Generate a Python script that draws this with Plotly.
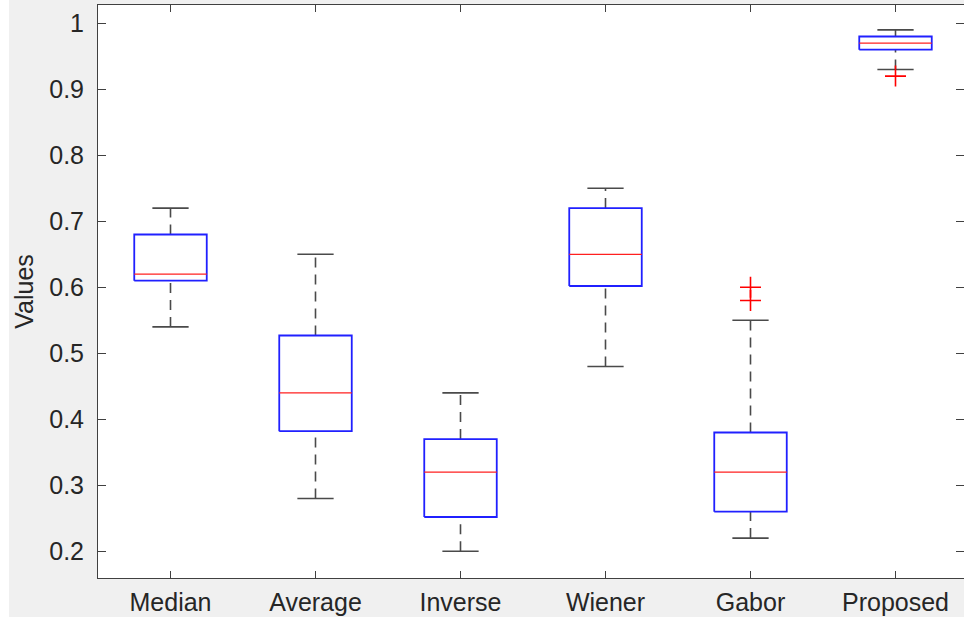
import plotly.graph_objects as go

categories = ["Median", "Average", "Inverse", "Wiener", "Gabor", "Proposed"]
lower_whisker = [0.54, 0.28, 0.20, 0.48, 0.22, 0.93]
q1 = [0.61, 0.382, 0.252, 0.602, 0.26, 0.96]
medians = [0.62, 0.44, 0.32, 0.65, 0.32, 0.97]
q3 = [0.68, 0.527, 0.37, 0.72, 0.38, 0.98]
upper_whisker = [0.72, 0.65, 0.44, 0.75, 0.55, 0.99]
outlier_group = ["Gabor", "Gabor", "Proposed"]
outlier_values = [0.60, 0.58, 0.92]
y_tickvals = [0.2, 0.3, 0.4, 0.5, 0.6, 0.7, 0.8, 0.9, 1.0]
y_ticktext = ["0.2", "0.3", "0.4", "0.5", "0.6", "0.7", "0.8", "0.9", "1"]

W, H = 964, 619
ML, MR, MT, MB = 98, 0, 5, 41
BOX_HALF = 0.25
CAP_HALF = 0.125
TEXT = "#262626"
AXIS = "#404040"
WHISK = "#4a4a4a"
FONT = "Liberation Sans, Arial, Helvetica, sans-serif"
FS = 25

pos = list(range(1, len(categories) + 1))

fig = go.Figure()

# whiskers (dashed)
wx, wy = [], []
for p, lo, a, b, hi in zip(pos, lower_whisker, q1, q3, upper_whisker):
    wx += [p, p, None, p, p, None]
    wy += [b, hi, None, lo, a, None]
fig.add_trace(go.Scatter(x=wx, y=wy, mode="lines",
                         line=dict(color=WHISK, width=1.6, dash="10px,7px"),
                         hoverinfo="skip", showlegend=False))

# caps
cx, cy = [], []
for p, lo, hi in zip(pos, lower_whisker, upper_whisker):
    cx += [p - CAP_HALF, p + CAP_HALF, None, p - CAP_HALF, p + CAP_HALF, None]
    cy += [hi, hi, None, lo, lo, None]
fig.add_trace(go.Scatter(x=cx, y=cy, mode="lines",
                         line=dict(color=WHISK, width=1.6),
                         hoverinfo="skip", showlegend=False))

# boxes
bx, by = [], []
for p, a, b in zip(pos, q1, q3):
    bx += [p - BOX_HALF, p + BOX_HALF, p + BOX_HALF, p - BOX_HALF, p - BOX_HALF, None]
    by += [a, a, b, b, a, None]
fig.add_trace(go.Scatter(x=bx, y=by, mode="lines",
                         line=dict(color="#2020ff", width=1.8),
                         hoverinfo="skip", showlegend=False))

# medians
mx, my = [], []
for p, m in zip(pos, medians):
    mx += [p - BOX_HALF, p + BOX_HALF, None]
    my += [m, m, None]
fig.add_trace(go.Scatter(x=mx, y=my, mode="lines",
                         line=dict(color="#ff2020", width=1.3),
                         hoverinfo="skip", showlegend=False))

# outliers
ox = [categories.index(g) + 1 for g in outlier_group]
fig.add_trace(go.Scatter(x=ox, y=outlier_values, mode="markers",
                         marker=dict(symbol="cross-thin", size=15,
                                     line=dict(color="#ff0000", width=1.6)),
                         hoverinfo="skip", showlegend=False))

plot_w = W - ML - MR
plot_h = H - MT - MB
px_per_unit = 145.0
x_range = [0.5, 0.5 + plot_w / px_per_unit]
ppv = 660.0
y_top = 1 + (23.3 - MT) / ppv
y_bot = y_top - plot_h / ppv

# white strips at far left and bottom of the image
fig.add_shape(type="rect", xref="paper", yref="paper",
              x0=-ML / plot_w, x1=(9 - ML) / plot_w,
              y0=-MB / plot_h, y1=(H - MB) / plot_h + 0.01,
              fillcolor="white", line=dict(width=0), layer="below")
fig.add_shape(type="rect", xref="paper", yref="paper",
              x0=-ML / plot_w, x1=1.0,
              y0=-MB / plot_h, y1=(-MB + 2) / plot_h,
              fillcolor="white", line=dict(width=0), layer="below")

fig.update_layout(
    width=W, height=H,
    margin=dict(l=ML, r=MR, t=MT, b=MB, pad=0, autoexpand=False),
    paper_bgcolor="#f0f0f0",
    plot_bgcolor="white",
    font=dict(family=FONT, color=TEXT, size=FS),
    showlegend=False,
    hovermode=False,
)
fig.update_xaxes(
    range=x_range, tickmode="array", tickvals=pos, ticktext=categories,
    showgrid=False, zeroline=False, showline=True, linecolor=AXIS, linewidth=1,
    mirror="ticks", ticks="inside", ticklen=7, tickcolor=AXIS, tickwidth=1,
    tickfont=dict(family=FONT, color=TEXT, size=FS), automargin=False,
    ticklabelstandoff=2,
)
fig.update_yaxes(
    range=[y_bot, y_top], tickmode="array", tickvals=y_tickvals, ticktext=y_ticktext,
    showgrid=False, zeroline=False, showline=True, linecolor=AXIS, linewidth=1,
    mirror="ticks", ticks="inside", ticklen=8, tickcolor=AXIS, tickwidth=1,
    tickfont=dict(family=FONT, color=TEXT, size=FS), automargin=False,
    ticklabelstandoff=8,
    title=dict(text="Values", font=dict(family=FONT, color=TEXT, size=FS), standoff=8),
)

fig.write_html(
    "out.html",
    config={"displayModeBar": False, "staticPlot": True},
    post_script="document.body.style.margin='0px';document.body.style.overflow='hidden';",
)
